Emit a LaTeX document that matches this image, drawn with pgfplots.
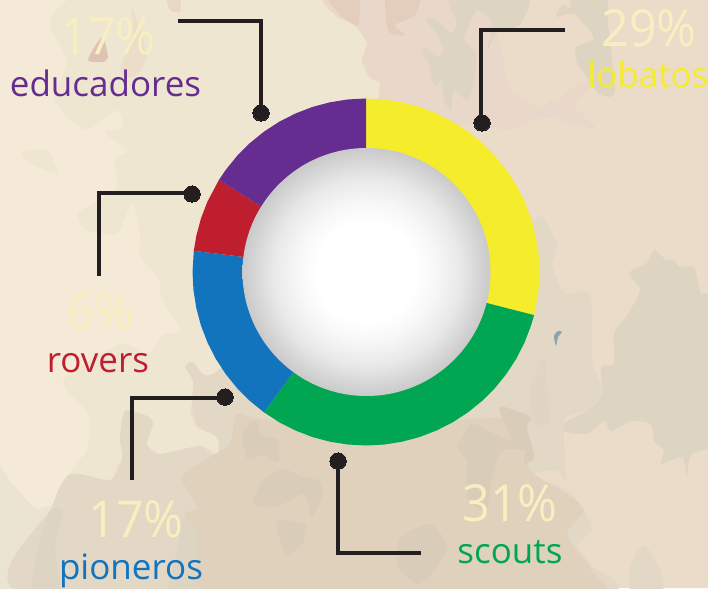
\documentclass[border=0pt]{standalone}
\usepackage{pgfplots}
\pgfplotsset{compat=1.18}
\usepackage{fontspec}
\setmainfont{Open Sans}
\definecolor{cbase}{HTML}{F5E9D8}
\definecolor{ctoneA}{HTML}{EFE6D2}
\definecolor{ctan}{HTML}{EBDCCA}
\definecolor{cpink}{HTML}{E9D7C9}
\definecolor{cpinkb}{HTML}{E3CDBC}
\definecolor{cpinkc}{HTML}{DFC3B2}
\definecolor{cmid}{HTML}{E3D7C6}
\definecolor{cdark}{HTML}{DFD1BC}
\definecolor{cpatch}{HTML}{D9CDBA}
\definecolor{cgreen}{HTML}{DDD5C2}
\definecolor{cleft}{HTML}{EBE4D1}
\definecolor{cpale}{HTML}{F7EFC0}
\definecolor{cleader}{HTML}{231F20}
\definecolor{cyel}{HTML}{F5EC2C}
\definecolor{cgrn}{HTML}{00A651}
\definecolor{cblu}{HTML}{1174BD}
\definecolor{cred}{HTML}{BE1E2D}
\definecolor{cpur}{HTML}{662D91}
\definecolor{clake}{HTML}{8AA3B1}
\pgfdeclareradialshading{ballin}{\pgfpoint{0bp}{0bp}}{color(0bp)=(white);color(10bp)=(white);color(14bp)=(black!3);color(19bp)=(black!9);color(25bp)=(black!21);color(50bp)=(black!21)}
\newcommand{\blob}[2]{\fill[#1] plot[smooth cycle,tension=0.4] coordinates {#2};}
\newcommand{\pct}[3]{\node[anchor=base,text=cpale,xscale=0.95,font=\fontsize{51}{51}\selectfont] at (axis cs:#1,#2) {#3};}
\newcommand{\lab}[4]{\node[anchor=base,text=#1,font=\fontsize{35}{35}\selectfont] at (axis cs:#2,#3) {#4};}
\begin{document}
\begin{tikzpicture}
\useasboundingbox (0,0) rectangle (708pt,588pt);
\clip (0,0) rectangle (708pt,588pt);
\begin{axis}[at={(0,0)},anchor=south west,scale only axis,width=708pt,height=588pt,
  xmin=0,xmax=708,ymin=0,ymax=588,y dir=reverse,hide axis,clip=true]
\fill[cbase] (axis cs:0,0) rectangle (axis cs:708,588);
% tan right
\fill[ctan] (axis cs:330,0)--(axis cs:708,0)--(axis cs:708,588)--(axis cs:100,588)--(axis cs:100,420)--(axis cs:200,350)--(axis cs:370,100)--cycle;
% tone A
\blob{ctoneA}{(88,-5)(50,23)(67,60)(55,100)(85,130)(117,110)(123,127)(105,133)(128,150)(115,160)(117,187)(100,200)(78,213)(87,230)(117,233)(132,203)(140,233)(140,257)(160,280)(160,294)(180,331)(163,334)(147,354)(120,344)(63,381)(88,414)(87,450)(70,474)(110,480)(122,460)(160,454)(200,446)(218,454)(217,437)(197,426)(192,404)(240,370)(290,300)(380,100)(380,83)(370,78)(362,60)(367,43)(354,25)(335,15)(330,-5)}
\blob{ctoneA}{(22,153)(47,150)(57,173)(30,163)}
\blob{cleft}{(-5,468)(13,485)(35,508)(52,507)(40,540)(35,595)(-5,595)}
% pink
\blob{cpink}{(330,-5)(335,15)(354,25)(367,43)(362,60)(370,78)(380,83)(380,105)(420,120)(470,125)(495,128)(510,130)(530,120)(555,118)(575,125)(595,127)(575,105)(600,78)(585,82)(570,90)(555,105)(550,100)(540,110)(527,100)(510,90)(503,60)(497,30)(497,-5)}
\blob{cpinkb}{(387,-5)(419,-5)(415,15)(395,25)(405,35)(390,33)(386,20)}
\blob{cpinkb}{(327,-5)(358,-5)(358,25)(340,15)}
% left pink patches
\blob{cpinkb!35!ctoneA}{(132,7)(147,57)(133,77)(120,70)(133,33)}
\blob{cpinkb!60!ctoneA}{(167,-3)(180,-3)(180,12)(170,10)}
\blob{cpinkc}{(88,60)(102,37)(108,57)(103,62)}
% top green
\blob{cgreen}{(451,-5)(527,-5)(520,25)(497,33)(487,50)(492,23)(477,10)(464,40)(476,53)(474,83)(467,100)(454,90)(451,110)(444,100)(442,80)(434,87)(429,63)(422,53)(426,48)(437,57)(444,50)(436,33)(426,20)(434,18)(451,33)(457,23)}
\blob{cgreen}{(556,17)(562,5)(571,8)(571,-5)(606,-5)(608,23)(612,60)(615,90)(610,97)(598,93)(587,77)(577,63)(576,47)(594,38)(574,14)}
% mid lower
\blob{cmid}{(52,507)(70,474)(110,480)(122,460)(120,437)(125,411)(147,416)(153,424)(147,444)(160,454)(200,446)(210,454)(218,454)(217,437)(197,426)(192,404)(193,381)(185,367)(193,362)(213,374)(300,300)(500,220)(534,220)(542,215)(557,245)(552,265)(565,294)(590,294)(592,360)(602,390)(587,410)(564,420)(566,480)(557,470)(531,475)(567,490)(584,510)(591,530)(577,545)(591,565)(591,595)(30,595)}
\blob{cgreen}{(50,511)(63,511)(55,547)(60,595)(33,595)(37,551)}
\blob{cgreen}{(185,514)(197,534)(197,560)(227,595)(170,595)(175,560)}
% dark lower
\blob{cdark}{(182,477)(210,457)(230,444)(237,414)(270,420)(450,420)(510,420)(530,470)(567,494)(584,511)(567,534)(591,570)(587,595)(227,595)(197,560)(197,534)(185,514)(197,507)}
% patches
\blob{cpatch}{(242,434)(255,420)(262,436)(278,440)(278,462)(262,455)(248,460)}
\blob{cpatch}{(253,504)(263,481)(283,469)(300,476)(320,481)(322,497)(312,517)(303,494)(277,507)}
\blob{cpatch}{(277,521)(305,524)(302,544)(287,556)(280,541)}
\blob{cpatch}{(457,447)(464,434)(474,424)(511,441)(499,407)(531,417)(527,427)(534,457)(524,464)(524,451)(501,451)(491,481)(487,511)(467,497)(467,461)}
\blob{cpatch}{(401,537)(431,524)(447,547)(434,571)(417,584)(397,564)}
\blob{cmid!70!cpatch}{(531,387)(544,359)(549,421)(534,422)}
% right green
\blob{cgreen}{(629,273)(647,263)(654,250)(666,260)(674,260)(679,267)(694,267)(701,294)(715,300)(715,437)(691,454)(687,476)(682,457)(661,464)(664,451)(654,441)(651,424)(631,421)(611,431)(604,421)(587,434)(564,431)(567,421)(587,411)(602,394)(601,367)(614,364)(614,334)(626,317)(640,290)}
\blob{cmid}{(630,567)(644,545)(660,570)(662,595)(632,595)}
\blob{clake}{(554,336)(558,331)(562,332)(558,337)(556,346)}
% leaders
\addplot[cleader,line width=3.6pt,line join=miter] coordinates {(178,21)(261,21)(261,113)};
\addplot[cleader,line width=3.6pt,line join=miter] coordinates {(192,193)(99,193)(99,276)};
\addplot[cleader,line width=3.6pt,line join=miter] coordinates {(225,398)(132,398)(132,480)};
\addplot[cleader,line width=3.6pt,line join=miter] coordinates {(338,461)(338,553)(421,553)};
\addplot[cleader,line width=3.6pt,line join=miter] coordinates {(481,123)(481,30)(565,30)};
\addplot[only marks,mark=*,mark size=8.2pt,mark options={fill=cleader,draw=cleader,line width=0pt}] coordinates {(261,113)(192,194)(225,397)(338,461)(482,123)};
% labels
\pct{108}{55}{17\%}
\pct{649}{47}{29\%}
\pct{101}{329}{6\%}
\pct{136}{537}{17\%}
\pct{510}{521}{31\%}
\lab{cpur}{105.5}{96.5}{educadores}
\lab{cyel}{648}{88}{lobatos}
\lab{cred}{98}{372}{rovers}
\lab{cblu}{131}{579}{pioneros}
\lab{cgrn}{510}{563}{scouts}
\end{axis}
\begin{axis}[at={(0,0)},anchor=south west,scale only axis,width=708pt,height=588pt,
  xmin=-366,xmax=342,ymin=-316,ymax=272,hide axis,clip=false]
% share 29 %: yellow
\addplot[draw=none,fill=cyel,data cs=polar] coordinates {(90,173.5)(84,173.5)(78,173.5)(72,173.5)(66,173.5)(60,173.5)(54,173.5)(48,173.5)(42,173.5)(36,173.5)(30,173.5)(24,173.5)(18,173.5)(12,173.5)(6,173.5)(0,173.5)(-6,173.5)(-12,173.5)(-14.4,173.5)
(-14.4,123)(-12,123)(-6,123)(0,123)(6,123)(12,123)(18,123)(24,123)(30,123)(36,123)(42,123)(48,123)(54,123)(60,123)(66,123)(72,123)(78,123)(84,123)(90,123)};
% share 31 %: green
\addplot[draw=none,fill=cgrn,data cs=polar] coordinates {(-14.4,173.5)(-18,173.5)(-24,173.5)(-30,173.5)(-36,173.5)(-42,173.5)(-48,173.5)(-54,173.5)(-60,173.5)(-66,173.5)(-72,173.5)(-78,173.5)(-84,173.5)(-90,173.5)(-96,173.5)(-102,173.5)(-108,173.5)(-114,173.5)(-120,173.5)(-126,173.5)
(-126,123)(-120,123)(-114,123)(-108,123)(-102,123)(-96,123)(-90,123)(-84,123)(-78,123)(-72,123)(-66,123)(-60,123)(-54,123)(-48,123)(-42,123)(-36,123)(-30,123)(-24,123)(-18,123)(-14.4,123)};
% share 17 %: blue
\addplot[draw=none,fill=cblu,data cs=polar] coordinates {(-126,173.5)(-132,173.5)(-138,173.5)(-144,173.5)(-150,173.5)(-156,173.5)(-162,173.5)(-168,173.5)(-174,173.5)(-180,173.5)(-187,173.5)
(-187,123)(-180,123)(-174,123)(-168,123)(-162,123)(-156,123)(-150,123)(-144,123)(-138,123)(-132,123)(-126,123)};
% share 6 %: red
\addplot[draw=none,fill=cred,data cs=polar] coordinates {(-187,173.5)(-192,173.5)(-198,173.5)(-204,173.5)(-212,173.5)
(-212,123)(-204,123)(-198,123)(-192,123)(-187,123)};
% share 17 %: purple
\addplot[draw=none,fill=cpur,data cs=polar] coordinates {(-212,173.5)(-216,173.5)(-222,173.5)(-228,173.5)(-234,173.5)(-240,173.5)(-246,173.5)(-252,173.5)(-258,173.5)(-264,173.5)(-270,173.5)
(-270,123)(-264,123)(-258,123)(-252,123)(-246,123)(-240,123)(-234,123)(-228,123)(-222,123)(-216,123)(-212,123)};
\shade[shading=ballin] (axis cs:0.5,0) circle [radius=124pt];
\end{axis}
\end{tikzpicture}
\end{document}
